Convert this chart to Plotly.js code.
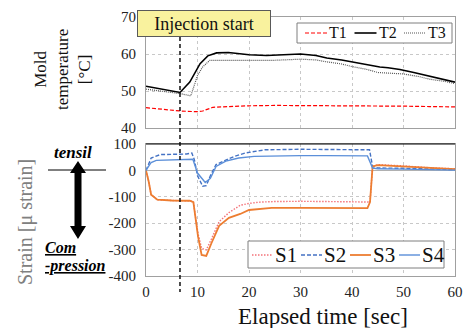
<!DOCTYPE html>
<html><head><meta charset="utf-8">
<script src="https://cdn.plot.ly/plotly-3.0.1.min.js"></script>
<style>html,body{margin:0;padding:0;background:#fff}#chart{width:465px;height:328px}</style>
</head><body><div id="chart"></div>
<script>
// ---- Data ----
const t1X = [0,3,6.6,10,11,13,16,20,25,30,35,40,45,50,55,60];
const t1Y = [45.5,45,44.6,44.4,44.6,45.6,45.8,46,46.1,46.1,46.1,46,46,45.9,45.8,45.7];
const t2X = [0,2,4,6.6,8.5,10.5,12,13.7,16,18.3,20,23.4,26,30,33,35.1,38,40.3,43,45.4,47,49.3,52,54.5,57,60];
const t2Y = [51.3,50.8,50.2,49.6,52.4,57.4,59.5,60.3,60.4,60,59.8,59.6,59.7,60,59.6,58.9,58.4,57.8,57.2,56.5,56.3,55.8,55,54.2,53.3,52.4];
const t3X = [0,3,6.6,8.7,10,11,12.4,14.3,17,20,25,30,33,35,38,40,43,45,47,50,53,55,58,60];
const t3Y = [50.5,50,49.3,48.7,54.2,56.5,58.3,58.3,58.3,58.2,58.3,58.6,58.4,57.9,57.3,56.6,55.8,55,54.9,54.6,53.9,53.2,52.6,52];

const s1X = [0,0.5,1,2.2,5,8.5,9.2,10.1,10.8,11.7,12.7,14.2,16.1,18.3,20,22.2,25,30,40,43.5,44,45,50,55,60];
const s1Y = [0,-40,-92,-111,-114,-115,-120,-240,-295,-301,-260,-194,-160,-132,-125,-120,-118,-117,-119,-120,15,22,17,10,6];
const s2X = [0,1,2.8,5,7.9,8.9,9.4,10,11,11.7,12.5,13.6,15.5,17,19.3,21,23.1,30,40,43.4,44,45,50,55,60];
const s2Y = [0,47,60,62,62,66,40,-20,-60,-58,-20,22,40,52,66,72,78,80,78,78,15,9,8,6,3];
const s3X = [0,0.5,1,2.2,5,8.5,9.2,10.1,10.8,11.7,12.7,14.2,16.1,18.3,20,22.2,24.4,30,40,43,43.5,44,45,50,55,60];
const s3Y = [0,-40,-92,-111,-114,-115,-120,-250,-320,-324,-276,-210,-180,-165,-150,-145,-142,-142,-143,-143,-120,15,20,15,10,5];
const s4X = [0,1,2,5,8,9.1,10,11.5,12.5,13.6,15.5,18,21,25,30,35,40,43,44,45,50,55,60];
const s4Y = [0,30,38,40,42,42,-10,-46,-30,15,35,47,53,55,56,56,56,55,9,6,5,3,1];

const tempNames = ['T1','T2','T3'];
const strainNames = ['S1','S2','S3','S4'];
const injectionTime = 6.6;
const xTicks = [0,10,20,30,40,50,60];
const tempTicks = [40,50,60,70];
const strainTicks = [-400,-300,-200,-100,0,100];
const strainTickText = ['-400','-300','-200','-100','0','100'];

// ---- Styles / layout helpers ----
const W = 465, H = 328;
const px = v => v / W;
const py = v => 1 - v / H;
const SERIF = 'Liberation Serif';

const tempStyles = [
  {color:'#ff0000', dash:'4px,2px', width:1.2},
  {color:'#000000', width:1.6},
  {color:'#555555', dash:'1px,1px', width:1.2}
];
const strainStyles = [
  {color:'#f4737a', dash:'1.5px,1.5px', width:1.4},
  {color:'#4472c4', dash:'4px,2px', width:1.4},
  {color:'#ed7d31', width:1.8},
  {color:'#5b8fd9', width:1.4}
];
const tempX = [t1X,t2X,t3X], tempY = [t1Y,t2Y,t3Y];
const strainX = [s1X,s2X,s3X,s4X], strainY = [s1Y,s2Y,s3Y,s4Y];

const traces = [];
tempNames.forEach((n,i) => traces.push({x:tempX[i], y:tempY[i], name:n, xaxis:'x2', yaxis:'y2', mode:'lines', line:tempStyles[i], showlegend:false}));
strainNames.forEach((n,i) => traces.push({x:strainX[i], y:strainY[i], name:n, xaxis:'x', yaxis:'y', mode:'lines', line:strainStyles[i], showlegend:false}));

const xDom = [px(146), px(455)];
const axisBase = {
  showgrid:true, gridcolor:'#c8c8c8', griddash:'dot', gridwidth:1,
  zeroline:false, ticks:'', tickfont:{family:SERIF, size:15, color:'#222'},
  showline:true, linecolor:'#a0a0a0', linewidth:1, mirror:true
};

// arrow polygon (decoration)
const ax = 78;
const arrowPts = [[ax,161],[ax+8,173],[ax+3.5,173],[ax+3.5,226],[ax+8,226],[ax,239],[ax-8,226],[ax-3.5,226],[ax-3.5,173],[ax-8,173]];
const arrowPath = 'M' + arrowPts.map(p => px(p[0]).toFixed(5)+','+py(p[1]).toFixed(5)).join(' L') + ' Z';

const shapes = [
  {type:'line', xref:'x', yref:'paper', x0:injectionTime, x1:injectionTime, y0:py(37), y1:py(292), line:{color:'#111', width:1.5, dash:'4px,3px'}},
  {type:'line', xref:'paper', yref:'paper', x0:xDom[0], x1:xDom[1], y0:py(144), y1:py(144), line:{color:'#000', width:1.2}},
  {type:'line', xref:'paper', yref:'paper', x0:px(48), x1:px(106), y0:py(170), y1:py(170), line:{color:'#000', width:1}},
  {type:'path', xref:'paper', yref:'paper', path:arrowPath, fillcolor:'#000', line:{color:'#000', width:0}}
];
const annotations = [
  {xref:'paper', yref:'paper', x:px(204), y:py(23.5), text:'Injection start', showarrow:false,
   font:{family:SERIF, size:18, color:'#111'}, bgcolor:'#f9f29e', bordercolor:'#595959', borderwidth:1,
   width:132, height:25, borderpad:0, xanchor:'center', yanchor:'middle'},
  {xref:'paper', yref:'paper', x:px(63), y:py(70), text:'Mold<br>temperature<br>[°C]', showarrow:false, textangle:-90,
   font:{family:SERIF, size:17, color:'#111'}, xanchor:'center', yanchor:'middle'},
  {xref:'paper', yref:'paper', x:px(25), y:py(222), text:'Strain [μ strain]', showarrow:false, textangle:-90,
   font:{family:SERIF, size:20, color:'#808080'}, xanchor:'center', yanchor:'middle'},
  {xref:'paper', yref:'paper', x:px(323), y:py(316), text:'Elapsed time [sec]', showarrow:false,
   font:{family:SERIF, size:23, color:'#111'}, xanchor:'center', yanchor:'middle', borderpad:0},
  {xref:'paper', yref:'paper', x:px(73), y:py(152), text:'<b><i>tensil</i></b>', showarrow:false,
   font:{family:SERIF, size:17, color:'#000'}, xanchor:'center', yanchor:'middle'},
  {xref:'paper', yref:'paper', x:px(43), y:py(247), text:'<b><i><u>Com</u></i></b>', showarrow:false,
   font:{family:SERIF, size:16, color:'#000'}, xanchor:'left', yanchor:'middle'},
  {xref:'paper', yref:'paper', x:px(43), y:py(266), text:'<b><i><u>-pression</u></i></b>', showarrow:false,
   font:{family:SERIF, size:16, color:'#000'}, xanchor:'left', yanchor:'middle'}
];

// compact legends (box + line sample + label)
function addLegend(names, styles, box, startX, step, sampleLen, cy, fontSize) {
  shapes.push({type:'rect', xref:'paper', yref:'paper', x0:px(box[0]), x1:px(box[1]), y0:py(box[3]), y1:py(box[2]),
               fillcolor:'#fff', line:{color:'#7f7f7f', width:1}});
  names.forEach((n,i) => {
    const x0 = startX + i*step;
    shapes.push({type:'line', xref:'paper', yref:'paper', x0:px(x0), x1:px(x0+sampleLen), y0:py(cy), y1:py(cy),
                 line:Object.assign({}, styles[i])});
    annotations.push({xref:'paper', yref:'paper', x:px(x0+sampleLen+1), y:py(cy), text:n, showarrow:false,
                      xanchor:'left', yanchor:'middle', borderpad:0, font:{family:SERIF, size:fontSize, color:'#111'}});
  });
}
addLegend(tempNames, tempStyles, [297,452,23,43], 305, 49.5, 22, 33, 16);
addLegend(strainNames, strainStyles, [248,444,241,268], 252, 49, 21, 255, 21);

const layout = {
  width:W, height:H, margin:{l:0,r:0,t:0,b:0},
  paper_bgcolor:'#fff', plot_bgcolor:'#fff', showlegend:false,
  font:{family:SERIF, color:'#222'},
  xaxis: Object.assign({}, axisBase, {domain:xDom, anchor:'y', range:[0,60], tickvals:xTicks, ticklabelstandoff:2}),
  yaxis: Object.assign({}, axisBase, {domain:[py(276), py(144)], anchor:'x', range:[-400,100], tickvals:strainTicks, ticktext:strainTickText,
          zeroline:true, zerolinecolor:'#b0b0b0', zerolinewidth:1.2, ticklabelstandoff:6}),
  xaxis2: Object.assign({}, axisBase, {domain:xDom, anchor:'y2', range:[0,60], tickvals:xTicks, showticklabels:false, matches:'x'}),
  yaxis2: Object.assign({}, axisBase, {domain:[py(128), py(17)], anchor:'x2', range:[40,70], tickvals:tempTicks, ticklabelstandoff:6}),
  shapes: shapes,
  annotations: annotations
};

Plotly.newPlot('chart', traces, layout, {staticPlot:true, displayModeBar:false});
</script>
</body></html>
